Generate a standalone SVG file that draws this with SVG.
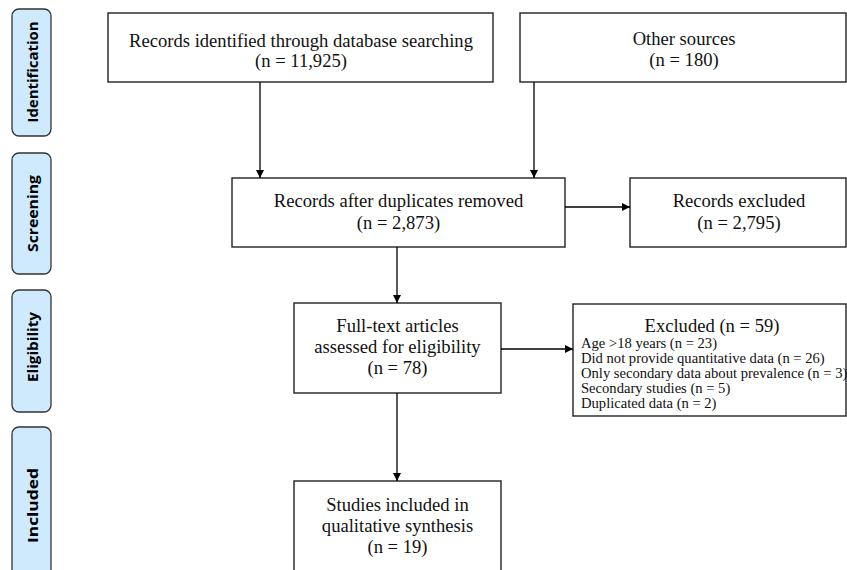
<svg xmlns="http://www.w3.org/2000/svg" width="847" height="570" viewBox="0 0 847 570">
<style>
.lab rect{fill:#cfe9fd;stroke:#333;stroke-width:1.3}
.lab text{font-family:"Open Sans","Liberation Sans",sans-serif;font-weight:bold;font-size:15px;fill:#000;text-anchor:middle;dominant-baseline:central}
.box rect{fill:#fff;stroke:#222;stroke-width:1.4}
.box text{font-family:"Liberation Serif","Times New Roman",serif;font-size:18.6px;fill:#111;text-anchor:middle}
.box text.s{font-size:14.6px;text-anchor:start}
.conn line{stroke:#000;stroke-width:1.3;fill:none}
</style>
<defs>
<marker id="ah" viewBox="0 0 10 10" refX="10" refY="5" markerWidth="8" markerHeight="8" markerUnits="userSpaceOnUse" orient="auto">
<path d="M0,0 L10,5 L0,10 z" fill="#000"/>
</marker>
</defs>
<rect width="847" height="570" fill="#fff"/>
<g id="lab-identification" class="lab"><rect x="12" y="9" width="39" height="127" rx="7"/><text transform="translate(32,72) rotate(-90)" textLength="101" lengthAdjust="spacingAndGlyphs">Identification</text></g>
<g id="lab-screening" class="lab"><rect x="12" y="153" width="39" height="121" rx="7"/><text transform="translate(32,213.5) rotate(-90)" textLength="77" lengthAdjust="spacingAndGlyphs">Screening</text></g>
<g id="lab-eligibility" class="lab"><rect x="12" y="290" width="39" height="122" rx="7"/><text transform="translate(32,347) rotate(-90)" textLength="70" lengthAdjust="spacingAndGlyphs">Eligibility</text></g>
<g id="lab-included" class="lab"><rect x="12" y="427" width="39" height="160" rx="7"/><text transform="translate(32,505.5) rotate(-90)" textLength="75" lengthAdjust="spacingAndGlyphs">Included</text></g>

<g id="n-db" class="box"><rect x="108" y="13" width="385" height="69"/><text x="301" y="47">Records identified through database searching</text><text x="301" y="67">(n = 11,925)</text></g>
<g id="n-other" class="box"><rect x="520" y="13" width="326" height="69"/><text x="684" y="45">Other sources</text><text x="684" y="66">(n = 180)</text></g>
<g id="n-dedup" class="box"><rect x="232" y="178" width="333" height="69"/><text x="398.5" y="207">Records after duplicates removed</text><text x="398.5" y="229">(n = 2,873)</text></g>
<g id="n-excl" class="box"><rect x="630" y="178" width="216" height="69"/><text x="739" y="207">Records excluded</text><text x="739" y="229">(n = 2,795)</text></g>
<g id="n-full" class="box"><rect x="294" y="303" width="207" height="90"/><text x="397.5" y="332">Full-text articles</text><text x="397.5" y="353">assessed for eligibility</text><text x="397.5" y="374">(n = 78)</text></g>
<g id="n-excl2" class="box"><rect x="573" y="304" width="273" height="112"/><text x="712" y="332">Excluded (n = 59)</text><text class="s" x="581" y="348">Age &gt;18 years (n = 23)</text><text class="s" x="581" y="363">Did not provide quantitative data (n = 26)</text><text class="s" x="581" y="378">Only secondary data about prevalence (n = 3)</text><text class="s" x="581" y="393">Secondary studies (n = 5)</text><text class="s" x="581" y="408">Duplicated data (n = 2)</text></g>
<g id="n-incl" class="box"><rect x="294" y="481" width="207" height="110"/><text x="397.5" y="511">Studies included in</text><text x="397.5" y="532">qualitative synthesis</text><text x="397.5" y="553">(n = 19)</text></g>

<g id="connectors" class="conn">
<line x1="260" y1="82" x2="260" y2="178" marker-end="url(#ah)"/>
<line x1="534" y1="82" x2="534" y2="178" marker-end="url(#ah)"/>
<line x1="565" y1="207" x2="630" y2="207" marker-end="url(#ah)"/>
<line x1="397" y1="247" x2="397" y2="303" marker-end="url(#ah)"/>
<line x1="501" y1="349" x2="573" y2="349" marker-end="url(#ah)"/>
<line x1="397" y1="393" x2="397" y2="481" marker-end="url(#ah)"/>
</g>
</svg>
